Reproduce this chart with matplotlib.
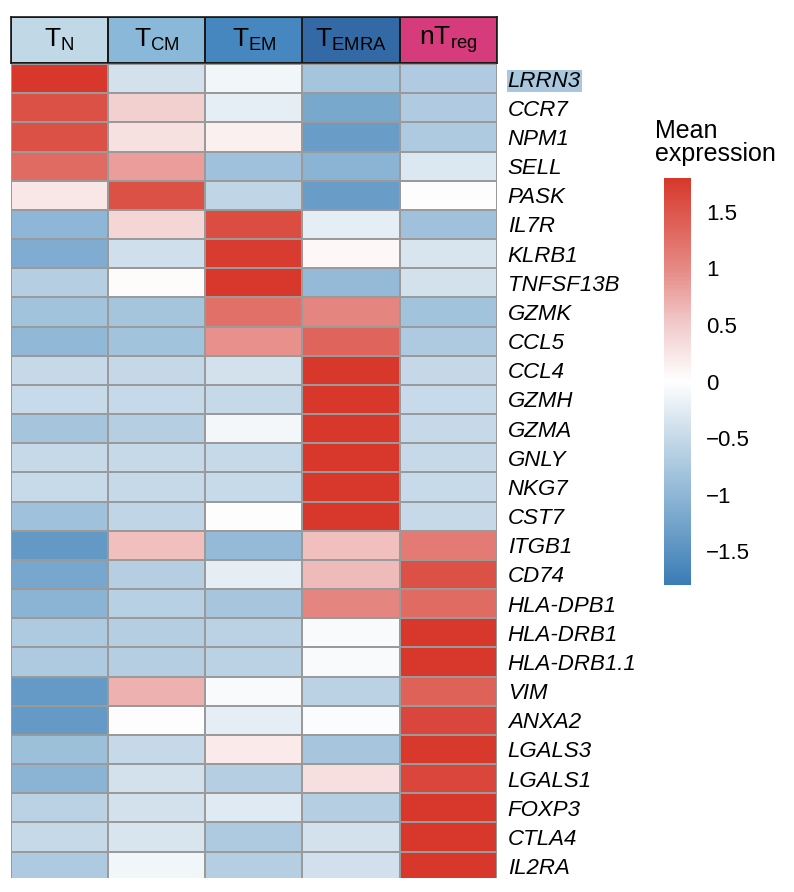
import numpy as np
import matplotlib
matplotlib.use('Agg')
import matplotlib.pyplot as plt
from matplotlib.colors import LinearSegmentedColormap, ListedColormap, Normalize
from matplotlib.cm import ScalarMappable
from matplotlib.patches import Rectangle

plt.rcParams['font.family'] = ['Liberation Sans', 'DejaVu Sans']
plt.rcParams['mathtext.fontset'] = 'custom'
plt.rcParams['mathtext.rm'] = 'Liberation Sans'

# data
genes = ['LRRN3', 'CCR7', 'NPM1', 'SELL', 'PASK', 'IL7R', 'KLRB1', 'TNFSF13B',
         'GZMK', 'CCL5', 'CCL4', 'GZMH', 'GZMA', 'GNLY', 'NKG7', 'CST7',
         'ITGB1', 'CD74', 'HLA-DPB1', 'HLA-DRB1', 'HLA-DRB1.1', 'VIM', 'ANXA2',
         'LGALS3', 'LGALS1', 'FOXP3', 'CTLA4', 'IL2RA']
cell_types = [r'$\mathrm{T}_{\mathrm{N}}$', r'$\mathrm{T}_{\mathrm{CM}}$',
              r'$\mathrm{T}_{\mathrm{EM}}$', r'$\mathrm{T}_{\mathrm{EMRA}}$',
              r'$\mathrm{nT}_{\mathrm{reg}}$']
type_colors = ['#c1d8e6', '#89b8d8', '#4587be', '#336aa5', '#d63c7c']

# columns: TN, TCM, TEM, TEMRA, nTreg
tn    = [1.80, 1.55, 1.55, 1.30, 0.25, -1.00, -1.15, -0.65, -0.82, -0.98, -0.50, -0.48, -0.80, -0.50,
         -0.48, -0.85, -1.40, -1.22, -1.05, -0.72, -0.72, -1.38, -1.38, -0.88, -1.05, -0.60, -0.50, -0.72]
tcm   = [-0.38, 0.45, 0.30, 0.85, 1.55, 0.40, -0.42, 0.04, -0.80, -0.82, -0.52, -0.50, -0.65, -0.50,
         -0.50, -0.55, 0.60, -0.65, -0.62, -0.65, -0.65, 0.70, -0.02, -0.50, -0.38, -0.38, -0.35, -0.12]
tem   = [-0.12, -0.22, 0.15, -0.85, -0.55, 1.60, 1.75, 1.80, 1.25, 0.95, -0.38, -0.50, -0.10, -0.50,
         -0.48, 0.02, -0.95, -0.22, -0.78, -0.60, -0.60, -0.06, -0.22, 0.20, -0.65, -0.28, -0.72, -0.65]
temra = [-0.80, -1.20, -1.35, -1.05, -1.35, -0.22, 0.08, -0.95, 1.05, 1.35, 1.80, 1.80, 1.80, 1.80,
         1.80, 1.80, 0.60, 0.62, 1.05, -0.06, -0.06, -0.60, -0.03, -0.78, 0.32, -0.65, -0.38, -0.40]
ntreg = [-0.70, -0.70, -0.72, -0.30, -0.02, -0.85, -0.35, -0.38, -0.82, -0.72, -0.52, -0.48, -0.50, -0.50,
         -0.48, -0.50, 1.15, 1.55, 1.30, 1.80, 1.80, 1.38, 1.65, 1.78, 1.65, 1.80, 1.80, 1.80]

values = np.array([tn, tcm, tem, temra, ntreg]).T

vmin, vmax = -1.8, 1.8
anchors = [(-1.8, '#3a7cb5'), (-1.0, '#8fb7d6'), (-0.5, '#c6d9e8'), (0.0, '#ffffff'),
           (0.5, '#f2cccc'), (1.0, '#e68a85'), (1.8, '#d7382b')]
cmap = LinearSegmentedColormap.from_list(
    'expr', [((v - vmin) / (vmax - vmin), c) for v, c in anchors])
norm = Normalize(vmin, vmax)

W, H = 794, 892
fig = plt.figure(figsize=(W / 100, H / 100), dpi=100)

# main heatmap
x0, x1 = 11, 496.7
y_top, row_h = 64, 29.17
y_bot = y_top + row_h * len(genes)
ax = fig.add_axes([x0 / W, 1 - y_bot / H, (x1 - x0) / W, (y_bot - y_top) / H])
ax.pcolormesh(values, cmap=cmap, norm=norm, edgecolors='#9a9a9a', linewidth=1.3)
ax.set_xlim(0, len(cell_types))
ax.set_ylim(len(genes), 0)
ax.set_xticks([])
ax.yaxis.tick_right()
ax.set_yticks(np.arange(len(genes)) + 0.5)
ax.set_yticklabels(genes, fontsize=16, style='italic')
ax.tick_params(axis='y', length=0, pad=8)
for s in ax.spines.values():
    s.set_visible(False)
ax.get_yticklabels()[0].set_bbox(dict(facecolor='#a9c8df', edgecolor='none', pad=0.5))

# column annotation
hax = fig.add_axes([x0 / W, 1 - 62.7 / H, (x1 - x0) / W, 46 / H])
hax.pcolormesh(np.arange(len(cell_types))[None, :], cmap=ListedColormap(type_colors),
               edgecolors='#1a1a1a', linewidth=1.2)
hax.set_xlim(0, len(cell_types))
hax.set_ylim(0, 1)
hax.set_xticks([])
hax.set_yticks([])
for s in hax.spines.values():
    s.set_color('#1a1a1a')
    s.set_linewidth(1.2)
for i, lab in enumerate(cell_types):
    hax.text(i + 0.5, 0.5, lab, ha='center', va='center', fontsize=19)

# colour bar
cax = fig.add_axes([664 / W, 1 - 585 / H, 27 / W, 407 / H])
cb = fig.colorbar(ScalarMappable(norm=norm, cmap=cmap), cax=cax)
cb.outline.set_visible(False)
cb.set_ticks([1.5, 1, 0.5, 0, -0.5, -1, -1.5])
cb.set_ticklabels(['1.5', '1', '0.5', '0', '\u22120.5', '\u22121', '\u22121.5'])
cax.tick_params(length=0, pad=11, labelsize=16)
fig.text(655 / W, 1 - 118.5 / H, 'Mean\nexpression', ha='left', va='top',
         fontsize=18, linespacing=0.95)

# the original picture is cut off just under the last row
fig.patches.append(Rectangle((0, 0), 1, (H - 878) / H, transform=fig.transFigure,
                             facecolor='white', edgecolor='none', zorder=10))

fig.savefig('out.png', dpi=100)
